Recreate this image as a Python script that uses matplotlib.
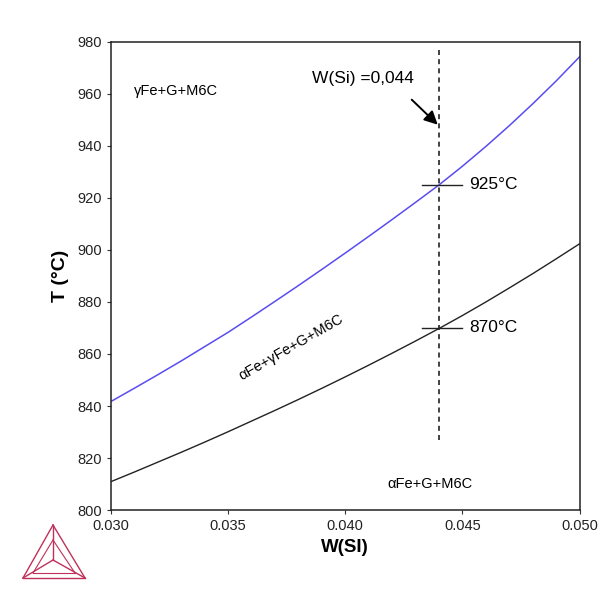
import matplotlib
matplotlib.use("Agg")
import matplotlib.pyplot as plt
from matplotlib.lines import Line2D

plt.rcParams['font.family'] = ['Liberation Sans', 'DejaVu Sans']

w_si = [0.030, 0.031, 0.032, 0.033, 0.034, 0.035, 0.036, 0.037, 0.038, 0.039, 0.040,
        0.041, 0.042, 0.043, 0.044, 0.045, 0.046, 0.047, 0.048, 0.049, 0.050]
t_upper = [841.7, 846.8, 852.0, 857.3, 862.8, 868.3, 874.2, 880.2, 886.3, 892.5, 898.8,
           905.2, 911.7, 918.3, 925.0, 932.2, 939.8, 947.8, 956.2, 965.0, 974.3]
t_lower = [810.9, 814.6, 818.4, 822.2, 826.1, 830.1, 834.2, 838.3, 842.5, 846.8, 851.2,
           855.7, 860.3, 865.0, 869.8, 874.8, 880.0, 885.4, 890.9, 896.6, 902.4]
x_ticks = [0.030, 0.035, 0.040, 0.045, 0.050]
y_ticks = list(range(800, 1000, 20))
w_mark = 0.044
t_marks = [925, 870]
mark_labels = ["925°C", "870°C"]

fig = plt.figure(figsize=(6.02, 5.89), dpi=100)
ax = fig.add_axes([0.184, 0.134, 0.779, 0.795])

ax.plot(w_si, t_upper, color='#5a4cf0', lw=1.1)
ax.plot(w_si, t_lower, color='#222222', lw=1.0)

ax.plot([w_mark, w_mark], [827, 977], color='#222222', lw=1.2, ls=(0, (3, 2.5)))
for t, lab in zip(t_marks, mark_labels):
    ax.plot([0.04326, 0.04497], [t, t], color='#222222', lw=1.0)
    ax.text(0.0453, t, lab, fontsize=12.5, va='center', ha='left')

ax.annotate("", xy=(0.04403, 947.4), xytext=(0.04275, 958.5),
            arrowprops=dict(arrowstyle='-|>', color='black', lw=1.4, mutation_scale=20))
ax.text(0.04075, 966, "W(Si) =0,044", fontsize=12.5, ha='center', va='center')

ax.text(0.0310, 961, "γFe+G+M6C", fontsize=10.5, ha='left', va='center')
ax.text(0.03768, 862.7, "αFe+γFe+G+M6C", fontsize=10.5, ha='center', va='center', rotation=30)
ax.text(0.0436, 810, "αFe+G+M6C", fontsize=10.5, ha='center', va='center')

ax.set_xlim(0.030, 0.050)
ax.set_ylim(800, 980)
ax.set_xticks(x_ticks)
ax.set_xticklabels([f"{v:.3f}" for v in x_ticks])
ax.set_yticks(y_ticks)
ax.tick_params(direction='out', length=3, labelsize=10.5, color='#333333', labelcolor='#222222')
for s in ax.spines.values():
    s.set_linewidth(1.1)
    s.set_color('#222222')
ax.set_xlabel("W(SI)", fontsize=13.5, fontweight='bold', labelpad=4)
ax.set_ylabel("T (°C)", fontsize=14, fontweight='bold', labelpad=6)

# logo (triangle)
col = '#c0305a'
def fx(px): return px / 602
def fy(py): return 1 - py / 589
A = (53, 525); B = (23, 578); C = (85, 578); O = (53, 560)
for P, Q in [(A, B), (B, C), (C, A), (O, A), (O, B), (O, C)]:
    fig.add_artist(Line2D([fx(P[0]), fx(Q[0])], [fy(P[1]), fy(Q[1])], color=col, lw=1.0))
A2 = (53, 540); B2 = (33, 573); C2 = (75, 573)
for P, Q in [(A2, B2), (B2, C2), (C2, A2)]:
    fig.add_artist(Line2D([fx(P[0]), fx(Q[0])], [fy(P[1]), fy(Q[1])], color=col, lw=0.8))

fig.savefig("out.png", dpi=100)
